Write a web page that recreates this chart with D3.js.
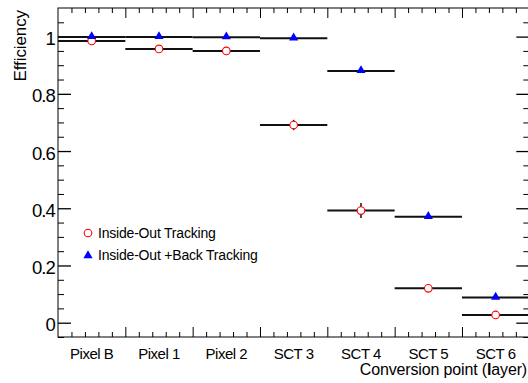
<!DOCTYPE html>
<html>
<head>
<meta charset="utf-8">
<script src="https://cdn.jsdelivr.net/npm/d3@7"></script>
<style>
  body { margin: 0; background: #fff; }
  svg { display: block; font-family: "Liberation Sans", Arial, sans-serif; }
</style>
</head>
<body>
<script>
// layers on the x axis (one bin each)
var layers = ["Pixel B", "Pixel 1", "Pixel 2", "SCT 3", "SCT 4", "SCT 5", "SCT 6"];

// efficiency, inside-out tracking only (open red circles)
var insideOut = [0.985, 0.957, 0.950, 0.691, 0.392, 0.120, 0.027];
var insideOutErr = [0.004, 0.004, 0.004, 0.018, 0.026, 0.006, 0.004];

// efficiency, inside-out + back tracking (blue triangles)
var backTrack = [0.999, 0.999, 0.998, 0.994, 0.880, 0.370, 0.088];
var backTrackErr = [0.001, 0.001, 0.001, 0.002, 0.005, 0.006, 0.004];

var yMajor = [0, 0.2, 0.4, 0.6, 0.8, 1];
var yTickLabels = ["0", "0.2", "0.4", "0.6", "0.8", "1"];

var w = 528;
var h = 383;
var padLeft = 58, padRight = 529.3, padTop = 8, padBottom = 337;

var svg = d3.select("body").append("svg")
  .attr("width", w)
  .attr("height", h);

var x = d3.scaleLinear().domain([0, layers.length]).range([padLeft, padRight]);
var y = d3.scaleLinear().domain([-0.05, 1.1]).range([padBottom, padTop]);

// frame
svg.append("rect")
  .attr("x", padLeft).attr("y", padTop)
  .attr("width", padRight - padLeft).attr("height", padBottom - padTop)
  .attr("fill", "none").attr("stroke", "#000").attr("stroke-width", 1);

// tick positions
var xMinor = d3.range(0, layers.length + 0.001, 0.2).filter(function(v) {
  return Math.abs(v - Math.round(v)) > 0.01;
});
var xMaj = d3.range(1, layers.length);
var yMinor = d3.range(-0.05, 1.1, 0.05).filter(function(v) {
  return Math.abs(v * 5 - Math.round(v * 5)) > 0.01;
});

function drawAxis(axis, transform) {
  var g = svg.append("g").attr("transform", transform).call(axis);
  g.select(".domain").remove();
  g.selectAll("line").attr("stroke", "#000");
  return g;
}

// bottom / top ticks (pointing inward)
drawAxis(d3.axisTop(x).tickValues(xMaj).tickSize(10).tickFormat(""), "translate(0," + padBottom + ")");
drawAxis(d3.axisTop(x).tickValues(xMinor).tickSize(5).tickFormat(""), "translate(0," + padBottom + ")");
drawAxis(d3.axisBottom(x).tickValues(xMaj).tickSize(10).tickFormat(""), "translate(0," + padTop + ")");
drawAxis(d3.axisBottom(x).tickValues(xMinor).tickSize(5).tickFormat(""), "translate(0," + padTop + ")");

// left / right ticks
drawAxis(d3.axisRight(y).tickValues(yMajor).tickSize(13).tickFormat(""), "translate(" + padLeft + ",0)")
  .selectAll("line").attr("stroke-width", 1.3);
drawAxis(d3.axisRight(y).tickValues(yMinor).tickSize(6).tickFormat(""), "translate(" + padLeft + ",0)");
drawAxis(d3.axisLeft(y).tickValues(yMajor).tickSize(13).tickFormat(""), "translate(" + padRight + ",0)")
  .selectAll("line").attr("stroke-width", 1.3);
drawAxis(d3.axisLeft(y).tickValues(yMinor).tickSize(6).tickFormat(""), "translate(" + padRight + ",0)");

// y tick labels
svg.append("g").selectAll("text")
  .data(yMajor)
  .enter().append("text")
  .attr("x", 55)
  .attr("y", function(d) { return y(d) + 8.5; })
  .attr("text-anchor", "end")
  .attr("font-size", 18.5)
  .attr("letter-spacing", -0.9)
  .text(function(d, i) { return yTickLabels[i]; });

// x labels at bin centers
svg.append("g").selectAll("text")
  .data(layers)
  .enter().append("text")
  .attr("x", function(d, i) { return x(i + 0.5); })
  .attr("y", 358.5)
  .attr("text-anchor", "middle")
  .attr("font-size", 15)
  .attr("letter-spacing", -0.5)
  .text(function(d) { return d; });

// axis titles
var xt = svg.append("text")
  .attr("x", 527).attr("y", 375)
  .attr("text-anchor", "end")
  .attr("font-size", 16)
  .attr("letter-spacing", -0.15);
xt.append("tspan").text("Conversion point (");
xt.append("tspan").attr("font-weight", "bold").text("l");
xt.append("tspan").text("ayer)");

svg.append("text")
  .attr("transform", "translate(26,10) rotate(-90)")
  .attr("text-anchor", "end")
  .attr("font-size", 17)
  .attr("letter-spacing", -0.1)
  .text("Efficiency");

// series drawing
var tri = d3.symbol().type(d3.symbolTriangle).size(36);

function drawSeries(vals, errs, kind) {
  var g = svg.append("g");
  vals.forEach(function(v, i) {
    var cx = x(i + 0.5);
    g.append("line")
      .attr("x1", x(i)).attr("x2", x(i + 1))
      .attr("y1", y(v)).attr("y2", y(v))
      .attr("stroke", "#111").attr("stroke-width", 2);
    g.append("line")
      .attr("x1", cx).attr("x2", cx)
      .attr("y1", y(v - errs[i])).attr("y2", y(v + errs[i]))
      .attr("stroke", "#111").attr("stroke-width", 1.5);
    if (kind === "circle") {
      g.append("circle")
        .attr("cx", cx).attr("cy", y(v)).attr("r", 3.8)
        .attr("fill", "#fff").attr("stroke", "#f00").attr("stroke-width", 1.1);
    } else {
      g.append("path")
        .attr("d", tri)
        .attr("transform", "translate(" + cx + "," + (y(v) - 0.5) + ")")
        .attr("fill", "#00f");
    }
  });
}

drawSeries(insideOut, insideOutErr, "circle");
drawSeries(backTrack, backTrackErr, "triangle");

// legend
var leg = svg.append("g");
leg.append("circle")
  .attr("cx", 88).attr("cy", 233).attr("r", 3.8)
  .attr("fill", "#fff").attr("stroke", "#f00").attr("stroke-width", 1.1);
leg.append("text")
  .attr("x", 98).attr("y", 237.5)
  .attr("font-size", 14).attr("letter-spacing", -0.2)
  .text("Inside-Out Tracking");
leg.append("path")
  .attr("d", tri)
  .attr("transform", "translate(88,255.5)")
  .attr("fill", "#00f");
leg.append("text")
  .attr("x", 98).attr("y", 260)
  .attr("font-size", 14).attr("letter-spacing", -0.2)
  .text("Inside-Out +Back Tracking");
</script>
</body>
</html>
